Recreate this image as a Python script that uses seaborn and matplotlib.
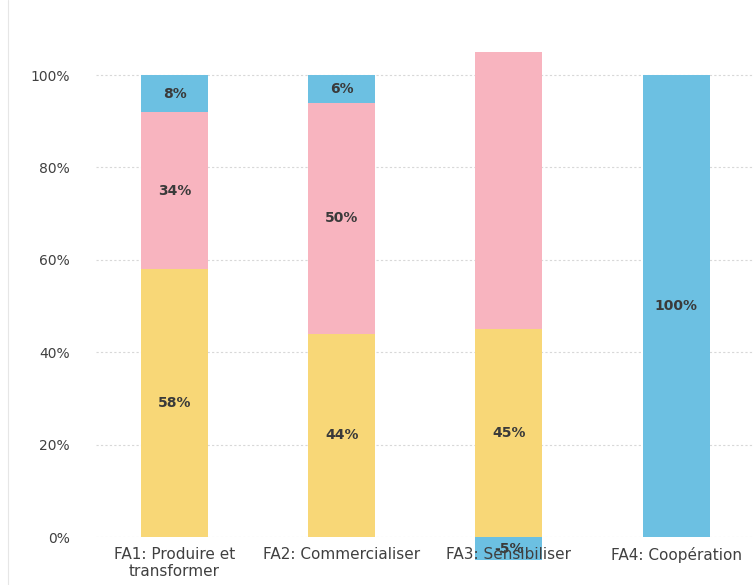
import matplotlib
matplotlib.use('Agg')
import matplotlib.pyplot as plt
import seaborn as sns
import numpy as np

categories = ['FA1: Produire et\ntransformer', 'FA2: Commercialiser',
              'FA3: Sensibiliser', 'FA4: Coopération']
yellow_vals = [58, 44, 45, 0]
pink_vals = [34, 50, 60, 0]
blue_vals = [8, 6, -5, 100]
yellow_labels = ['58%', '44%', '45%', '']
pink_labels = ['34%', '50%', '', '']
blue_labels = ['8%', '6%', '-5%', '100%']

YELLOW = '#F8D777'
PINK = '#F8B4BF'
BLUE = '#6CC0E2'


def main():
    sns.set_style('white')
    plt.rcParams['font.family'] = ['DejaVu Sans']

    fig = plt.figure(figsize=(7.53, 5.85), dpi=100)
    ax = fig.add_axes([0.1275, 0.082, 0.8725, 0.8687])

    yellow = np.array(yellow_vals)
    pink = np.array(pink_vals)
    blue = np.array(blue_vals)
    pos_total = yellow + pink + np.clip(blue, 0, None)
    neg_blue = np.clip(blue, None, 0)

    # layers drawn back to front, each one covering the part below it
    for heights, color in [(pos_total, BLUE), (yellow + pink, PINK),
                           (yellow, YELLOW), (neg_blue, BLUE)]:
        sns.barplot(x=categories, y=heights, color=color, width=0.4,
                    saturation=1, linewidth=0, edgecolor='none', ax=ax,
                    zorder=3)

    for patch in ax.patches:
        patch.set_clip_on(False)

    for i in range(len(categories)):
        segs = [(0, yellow[i], yellow_labels[i]),
                (yellow[i], pink[i], pink_labels[i])]
        if blue[i] >= 0:
            segs.append((yellow[i] + pink[i], blue[i], blue_labels[i]))
        else:
            segs.append((0, blue[i], blue_labels[i]))
        for base, h, txt in segs:
            if txt:
                ax.text(i, base + h / 2, txt, ha='center', va='center',
                        fontsize=10, fontweight='bold', color='#3a3a3a',
                        zorder=4)

    ax.set_xlim(-0.47, 3.46)
    ax.set_ylim(0, 110)
    ax.set_yticks([0, 20, 40, 60, 80, 100])
    ax.set_yticklabels(['0%', '20%', '40%', '60%', '80%', '100%'])
    ax.yaxis.grid(True, color='#d8d8d8', linestyle=(0, (2, 2)),
                  linewidth=0.8)
    ax.xaxis.grid(False)
    ax.yaxis.set_zorder(0.5)
    ax.xaxis.set_zorder(5)
    sns.despine(ax=ax, left=True, bottom=True)
    ax.tick_params(axis='y', length=0, pad=19, labelsize=10,
                   labelcolor='#404040')
    ax.tick_params(axis='x', length=0, pad=7, labelsize=11,
                   labelcolor='#404040')

    fig.add_artist(plt.Line2D([0.011, 0.011], [0, 1], color='#e6e6e6',
                              linewidth=0.8))

    fig.savefig('out.png', dpi=100)


if __name__ == '__main__':
    main()
